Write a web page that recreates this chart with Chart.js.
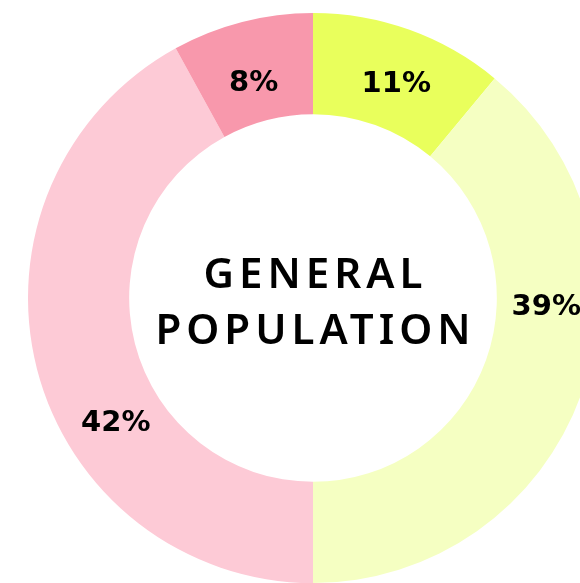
<!DOCTYPE html>
<html>
<head>
<meta charset="utf-8">
<script src="https://cdn.jsdelivr.net/npm/chart.js@4"></script>
<style>
    html, body { margin: 0; padding: 0; background: #fff; overflow: hidden; width: 580px; height: 583px; }
    #wrap { position: absolute; left: 28px; top: 13px; width: 570px; height: 570px; }
</style>
</head>
<body>
<div id="wrap"><canvas id="myChart" width="570" height="570"></canvas></div>
<script>
// chart data
var categories = ['Group A', 'Group B', 'Group C', 'Group D'];
var shares = [11, 39, 42, 8];
var sliceColors = ['#e9ff5c', '#f5ffc2', '#fdcad6', '#f898ac'];
var centerLines = ['GENERAL', 'POPULATION'];

// where along each slice the label sits (0 = start, 1 = end), and how far in from mid-ring
var labelSpot = [0.53, 0.37, 0.384, 0.47];
var labelInset = [2, 1, 2, 9];

var sliceLabels = {
    id: 'sliceLabels',
    afterDatasetsDraw: function (chart) {
        var ctx = chart.ctx;
        var arcs = chart.getDatasetMeta(0).data;
        ctx.save();
        ctx.fillStyle = '#000';
        ctx.font = 'bold 29px "DejaVu Sans"';
        ctx.textAlign = 'center';
        ctx.textBaseline = 'alphabetic';
        arcs.forEach(function (arc, i) {
            var p = arc.getProps(['x', 'y', 'startAngle', 'endAngle', 'innerRadius', 'outerRadius'], true);
            var a = p.startAngle + (p.endAngle - p.startAngle) * labelSpot[i];
            var r = (p.innerRadius + p.outerRadius) / 2 - labelInset[i];
            ctx.fillText(shares[i] + '%', p.x + Math.cos(a) * r, p.y + Math.sin(a) * r + 10.5);
        });
        ctx.restore();
    }
};

var centerText = {
    id: 'centerText',
    afterDraw: function (chart) {
        var ctx = chart.ctx;
        var arc = chart.getDatasetMeta(0).data[0];
        ctx.save();
        ctx.fillStyle = '#000';
        ctx.font = '600 42px "Noto Sans"';
        ctx.letterSpacing = '5px';
        ctx.textAlign = 'center';
        ctx.textBaseline = 'alphabetic';
        ctx.fillText(centerLines[0], arc.x + 2.5, arc.y - 10);
        ctx.fillText(centerLines[1], arc.x + 2.5, arc.y + 46);
        ctx.restore();
    }
};

const ctx = document.getElementById('myChart');

new Chart(ctx, {
    type: 'doughnut',
    data: {
        labels: categories,
        datasets: [{
            data: shares,
            backgroundColor: sliceColors,
            borderWidth: 0
        }]
    },
    options: {
        responsive: false,
        animation: false,
        cutout: '64.5%',
        layout: { padding: 0 },
        plugins: {
            legend: { display: false },
            tooltip: { enabled: false }
        }
    },
    plugins: [sliceLabels, centerText]
});
</script>
</body>
</html>
